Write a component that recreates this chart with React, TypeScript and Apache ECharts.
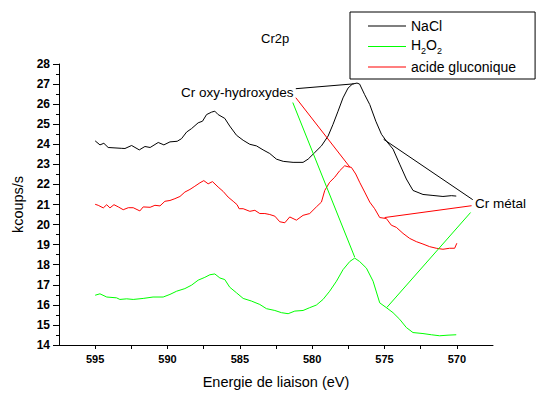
import React, { useEffect, useRef } from "react";
import * as echarts from "echarts";

const FONT = "'Liberation Sans', Arial, Helvetica, sans-serif";

const seriesNames = ["NaCl", "H2O2", "acide gluconique"];
const seriesColors = ["#000000", "#00ff00", "#ff0000"];

// NaCl (black)
const naclEnergy = [595.0, 594.67, 594.4, 594.1, 593.2, 592.94, 592.48, 591.95, 591.56, 591.2, 590.64, 590.25, 589.83, 589.33, 589.03, 588.68, 588.34, 587.88, 587.58, 587.3, 586.96, 586.73, 586.5, 586.04, 585.7, 585.23, 584.77, 584.31, 583.85, 583.39, 582.93, 582.47, 582.0, 581.32, 580.63, 580.28, 579.82, 579.36, 578.9, 578.56, 578.21, 577.87, 577.52, 577.22, 576.9, 576.72, 576.37, 576.02, 575.6, 575.21, 574.87, 574.41, 573.95, 573.49, 573.03, 572.34, 571.65, 570.96, 570.38, 570.04];
const naclCounts = [24.17, 23.97, 24.05, 23.84, 23.8, 23.79, 23.94, 23.72, 23.89, 23.84, 24.09, 23.97, 24.12, 24.15, 24.28, 24.61, 24.78, 25.07, 25.15, 25.48, 25.6, 25.65, 25.48, 25.29, 24.91, 24.45, 24.2, 24.0, 23.92, 23.72, 23.54, 23.26, 23.15, 23.1, 23.1, 23.26, 23.59, 23.92, 24.41, 24.99, 25.65, 26.31, 26.8, 27.0, 27.05, 27.0, 26.47, 25.98, 25.15, 24.5, 24.16, 23.76, 23.01, 22.27, 21.7, 21.5, 21.45, 21.4, 21.44, 21.42];

// acide gluconique (red)
const glucEnergy = [595.0, 594.79, 594.44, 594.2, 593.98, 593.7, 593.4, 593.06, 592.71, 592.37, 591.91, 591.68, 591.2, 590.87, 590.52, 590.18, 589.83, 589.49, 589.14, 588.8, 588.45, 588.11, 587.76, 587.49, 587.19, 586.89, 586.5, 586.15, 585.81, 585.46, 585.19, 585.05, 584.77, 584.31, 583.96, 583.62, 583.27, 582.93, 582.58, 582.24, 581.89, 581.55, 581.09, 580.63, 580.17, 579.71, 579.36, 579.13, 578.79, 578.44, 578.1, 577.75, 577.52, 577.29, 576.99, 576.72, 576.37, 576.02, 575.68, 575.33, 574.87, 574.53, 574.18, 573.72, 573.26, 572.8, 572.34, 571.88, 571.42, 570.96, 570.5, 570.15, 570.0];
const glucCounts = [21.01, 20.96, 20.83, 20.99, 20.83, 20.99, 20.88, 20.74, 20.84, 20.84, 20.68, 20.88, 20.86, 20.96, 20.93, 21.16, 21.2, 21.29, 21.4, 21.62, 21.75, 21.91, 22.08, 22.19, 22.03, 22.14, 21.87, 21.65, 21.37, 21.16, 20.99, 20.79, 20.79, 20.66, 20.71, 20.55, 20.55, 20.5, 20.42, 20.14, 20.09, 20.38, 20.22, 20.46, 20.55, 20.88, 21.12, 21.7, 22.11, 22.36, 22.68, 22.93, 22.88, 22.85, 22.52, 22.11, 21.62, 21.12, 20.79, 20.35, 20.3, 19.97, 19.86, 19.56, 19.31, 19.15, 19.03, 18.9, 18.82, 18.77, 18.82, 18.82, 19.07];

// H2O2 (green)
const h2o2Energy = [595.0, 594.67, 594.2, 593.52, 593.29, 592.82, 592.37, 591.68, 591.0, 590.3, 589.83, 589.37, 588.8, 588.34, 587.88, 587.42, 587.07, 586.73, 586.38, 586.04, 585.7, 585.23, 584.77, 584.2, 583.62, 583.16, 582.58, 582.12, 581.66, 581.2, 580.63, 580.17, 579.71, 579.25, 578.79, 578.32, 577.87, 577.4, 577.06, 576.72, 576.25, 575.79, 575.33, 574.87, 574.41, 573.95, 573.49, 573.03, 572.34, 571.76, 571.19, 570.61, 570.04];
const h2o2Counts = [16.48, 16.55, 16.39, 16.35, 16.27, 16.3, 16.27, 16.32, 16.39, 16.39, 16.52, 16.68, 16.81, 16.98, 17.23, 17.37, 17.5, 17.54, 17.34, 17.26, 16.88, 16.6, 16.32, 16.19, 16.02, 15.81, 15.72, 15.61, 15.56, 15.69, 15.72, 15.86, 15.99, 16.27, 16.68, 17.18, 17.75, 18.16, 18.33, 18.16, 17.83, 17.18, 16.1, 15.86, 15.61, 15.28, 14.87, 14.62, 14.57, 14.51, 14.46, 14.49, 14.51];

// annotation leader lines (data coordinates): [startE, startY, endE, endY]
const oxyLeaders = [
  [581.13, 26.77, 577.13, 27.01],
  [581.34, 26.08, 577.06, 18.38],
  [581.13, 26.32, 577.4, 22.87],
];
const metalLeaders = [
  [568.9, 21.24, 575.06, 24.25],
  [569.05, 20.6, 574.85, 15.86],
  [568.98, 20.94, 574.99, 20.35],
];

const xMin = 567.5;
const xMax = 597.5;
const yMin = 14;
const yMax = 28;

const energies = [naclEnergy, h2o2Energy, glucEnergy];
const counts = [naclCounts, h2o2Counts, glucCounts];

export default function App() {
  const ref = useRef<HTMLDivElement>(null);
  useEffect(() => {
    if (!ref.current) return;
    const chart = echarts.init(ref.current, undefined, { renderer: "svg" });
    const series = seriesNames.map((name, i) => ({
      name,
      type: "line",
      symbol: "none",
      showSymbol: false,
      lineStyle: { color: seriesColors[i], width: 1 },
      itemStyle: { color: seriesColors[i] },
      data: energies[i].map((e, k) => [e, counts[i][k]]),
      markLine: {
        silent: true,
        symbol: "none",
        label: { show: false },
        lineStyle: { color: seriesColors[i], width: 1, type: "solid" },
        data: [oxyLeaders[i], metalLeaders[i]].map((l) => [
          { coord: [l[0], l[1]] },
          { coord: [l[2], l[3]] },
        ]),
      },
    }));
    chart.setOption({
      animation: false,
      backgroundColor: "#ffffff",
      textStyle: { fontFamily: FONT },
      title: {
        text: "Cr2p",
        left: 256,
        top: 27,
        textStyle: { fontSize: 13, fontWeight: "normal", color: "#000", fontFamily: FONT },
      },
      legend: {
        data: seriesNames,
        orient: "vertical",
        left: 350,
        top: 12,
        padding: [7, 19, 5, 18],
        itemGap: 5,
        itemWidth: 38,
        itemHeight: 14,
        backgroundColor: "#ffffff",
        borderColor: "#000000",
        borderWidth: 1,
        borderRadius: 0,
        icon: "path://M0,6 L38,6 L38,7 L0,7 Z",
        textStyle: {
          fontSize: 14,
          color: "#000",
          fontFamily: FONT,
          rich: {
            n: { fontSize: 14, fontFamily: FONT, color: "#000", verticalAlign: "top", lineHeight: 17 },
            s: { fontSize: 9, fontFamily: FONT, color: "#000", verticalAlign: "bottom", lineHeight: 9 },
          },
        },
        formatter: (name: string) => (name === "H2O2" ? "{n|H}{s|2}{n|O}{s|2}" : name),
      },
      grid: { left: 59, right: 43, top: 64, bottom: 46, containLabel: false },
      xAxis: {
        type: "value",
        inverse: true,
        min: xMin,
        max: xMax,
        interval: 2.5,
        name: "Energie de liaison (eV)",
        nameLocation: "middle",
        nameGap: 29,
        nameTextStyle: { fontSize: 14.5, color: "#000", fontFamily: FONT },
        axisLine: { show: true, onZero: false, lineStyle: { color: "#000", width: 1 } },
        axisTick: { show: true, length: 4, lineStyle: { color: "#000" } },
        axisLabel: {
          margin: 8,
          fontSize: 11,
          fontWeight: "bold",
          color: "#000",
          fontFamily: FONT,
          showMinLabel: false,
          showMaxLabel: false,
          formatter: (v: number) => (Math.abs(v % 5) < 1e-6 ? String(v) : ""),
        },
        splitLine: { show: false },
      },
      yAxis: {
        type: "value",
        min: yMin,
        max: yMax,
        interval: 1,
        name: "kcoups/s",
        nameLocation: "middle",
        nameGap: 31,
        nameTextStyle: { fontSize: 14.5, color: "#000", fontFamily: FONT },
        axisLine: { show: true, onZero: false, lineStyle: { color: "#000", width: 1 } },
        axisTick: { show: true, length: 6, lineStyle: { color: "#000" } },
        minorTick: { show: true, splitNumber: 2, length: 3, lineStyle: { color: "#000" } },
        axisLabel: { margin: 9, fontSize: 12, fontWeight: "bold", color: "#000", fontFamily: FONT },
        splitLine: { show: false },
      },
      graphic: [
        {
          type: "text",
          left: 181,
          top: 85,
          style: { text: "Cr oxy-hydroxydes", fontSize: 13.5, fill: "#000", fontFamily: FONT },
        },
        {
          type: "text",
          left: 475,
          top: 196,
          style: { text: "Cr métal", fontSize: 13.5, fill: "#000", fontFamily: FONT },
        },
      ],
      series,
    });
    return () => chart.dispose();
  }, []);
  return (
    <div
      ref={ref}
      style={{ position: "fixed", left: 0, top: 0, width: 536, height: 394, background: "#fff" }}
    />
  );
}
